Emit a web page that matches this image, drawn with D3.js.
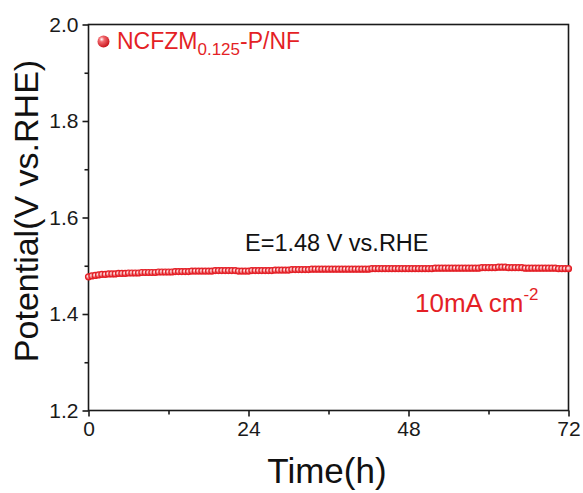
<!DOCTYPE html>
<html>
<head>
<meta charset="utf-8">
<script src="https://cdn.jsdelivr.net/npm/d3@7"></script>
<style>
  html, body { margin: 0; padding: 0; background: #fff; }
  svg { display: block; font-family: "Liberation Sans", Arial, sans-serif; }
</style>
</head>
<body>
<svg id="chart" width="583" height="493"></svg>
<script>
// Chronopotentiometry at 10 mA cm^-2, sampled every half hour over 72 h
const sampleStep = 0.5; // h
const potential = [
  1.477,1.479,1.480,1.481,1.482,1.482,1.483,1.483,1.483,1.484,
  1.484,1.484,1.485,1.485,1.485,1.485,1.486,1.486,1.486,1.486,
  1.486,1.487,1.487,1.487,1.487,1.487,1.488,1.488,1.488,1.488,
  1.488,1.489,1.489,1.489,1.489,1.489,1.489,1.489,1.490,1.490,
  1.490,1.490,1.490,1.490,1.490,1.489,1.489,1.489,1.489,1.490,
  1.490,1.490,1.490,1.490,1.490,1.490,1.491,1.491,1.491,1.491,
  1.491,1.492,1.492,1.492,1.492,1.492,1.492,1.493,1.493,1.493,
  1.493,1.493,1.493,1.493,1.493,1.493,1.493,1.493,1.493,1.493,
  1.493,1.493,1.493,1.493,1.493,1.494,1.494,1.494,1.494,1.494,
  1.494,1.494,1.494,1.494,1.494,1.494,1.494,1.494,1.494,1.494,
  1.494,1.494,1.494,1.494,1.495,1.495,1.495,1.495,1.495,1.495,
  1.495,1.495,1.495,1.495,1.495,1.495,1.495,1.495,1.496,1.496,
  1.496,1.496,1.496,1.497,1.497,1.497,1.496,1.496,1.496,1.496,
  1.496,1.495,1.495,1.495,1.495,1.495,1.495,1.495,1.495,1.495,
  1.495,1.494,1.494,1.494,1.494
];
const xMajorTicks = [0, 24, 48, 72];
const xMinorTicks = [12, 36, 60];
const yMajorTicks = [1.2, 1.4, 1.6, 1.8, 2.0];
const yMinorTicks = [1.3, 1.5, 1.7, 1.9];
const seriesName = { base: "NCFZM", sub: "0.125", tail: "-P/NF" };

const red = "#e41f26";
const axisColor = "#1a1a1a";

const svg = d3.select("#chart");
const plot = { left: 88.5, right: 568.5, top: 24.5, bottom: 410.5 };

const x = d3.scaleLinear().domain([0, 72]).range([plot.left, plot.right]);
const y = d3.scaleLinear().domain([1.2, 2.0]).range([plot.bottom, plot.top]);

const points = potential.map((v, i) => ({ t: i * sampleStep, v }));

// sphere-like marker fill
const defs = svg.append("defs");
const grad = defs.append("radialGradient").attr("id", "ball")
  .attr("cx", "42%").attr("cy", "40%").attr("r", "60%");
grad.append("stop").attr("offset", "0%").attr("stop-color", "#fff");
grad.append("stop").attr("offset", "35%").attr("stop-color", "#f6a9ac");
grad.append("stop").attr("offset", "100%").attr("stop-color", red);

const legendGrad = defs.append("radialGradient").attr("id", "ballLegend")
  .attr("cx", "35%").attr("cy", "32%").attr("r", "70%");
legendGrad.append("stop").attr("offset", "0%").attr("stop-color", "#fff");
legendGrad.append("stop").attr("offset", "30%").attr("stop-color", "#f26a6f");
legendGrad.append("stop").attr("offset", "100%").attr("stop-color", "#c8141b");

// frame
svg.append("rect")
  .attr("x", plot.left).attr("y", plot.top)
  .attr("width", plot.right - plot.left).attr("height", plot.bottom - plot.top)
  .attr("fill", "none").attr("stroke", axisColor).attr("stroke-width", 1.6);

// bottom axis
const xAxis = svg.append("g").attr("transform", `translate(0,${plot.bottom})`)
  .call(d3.axisBottom(x).tickValues(xMajorTicks).tickSize(6).tickPadding(5).tickFormat(d3.format("d")));
const xMinor = svg.append("g").attr("transform", `translate(0,${plot.bottom})`)
  .call(d3.axisBottom(x).tickValues(xMinorTicks).tickSize(4).tickFormat(""));

// left axis
const yAxis = svg.append("g").attr("transform", `translate(${plot.left},0)`)
  .call(d3.axisLeft(y).tickValues(yMajorTicks).tickSize(6).tickPadding(4).tickFormat(d3.format(".1f")));
const yMinor = svg.append("g").attr("transform", `translate(${plot.left},0)`)
  .call(d3.axisLeft(y).tickValues(yMinorTicks).tickSize(4).tickFormat(""));

[xAxis, xMinor, yAxis, yMinor].forEach(g => {
  g.select(".domain").remove();
  g.selectAll(".tick line").attr("stroke", axisColor).attr("stroke-width", 1.6);
  g.selectAll(".tick text")
    .attr("fill", "#1a1a1a")
    .style("font-family", '"Liberation Sans", Arial, sans-serif')
    .style("font-size", "21px");
});

// axis titles
svg.append("text")
  .attr("x", 327).attr("y", 483)
  .attr("text-anchor", "middle")
  .style("font-size", "35px").attr("fill", "#111")
  .text("Time(h)");

svg.append("text")
  .attr("transform", `translate(38,211) rotate(-90)`)
  .attr("text-anchor", "middle")
  .style("font-size", "34px").attr("fill", "#111")
  .text("Potential(V vs.RHE)");

// data markers
svg.append("g").selectAll("circle")
  .data(points).join("circle")
  .attr("cx", d => x(d.t)).attr("cy", d => y(d.v))
  .attr("r", 3)
  .attr("fill", "url(#ball)")
  .attr("stroke", red).attr("stroke-width", 1.2);

// legend
svg.append("circle").attr("cx", 103.5).attr("cy", 41.5).attr("r", 6)
  .attr("fill", "url(#ballLegend)");
const legendText = svg.append("text")
  .attr("x", 117).attr("y", 48.5)
  .style("font-size", "23px").attr("fill", red);
legendText.append("tspan").text(seriesName.base);
legendText.append("tspan").attr("dy", 6).style("font-size", "17px").text(seriesName.sub);
legendText.append("tspan").attr("dy", -6).text(seriesName.tail);

// annotations
svg.append("text")
  .attr("x", 245).attr("y", 251)
  .style("font-size", "23.5px").attr("fill", "#111")
  .text("E=1.48 V vs.RHE");

const current = svg.append("text")
  .attr("x", 415).attr("y", 312)
  .style("font-size", "26px").attr("fill", red);
current.append("tspan").text("10mA cm");
current.append("tspan").attr("dy", -12).style("font-size", "17px").text("-2");
</script>
</body>
</html>
